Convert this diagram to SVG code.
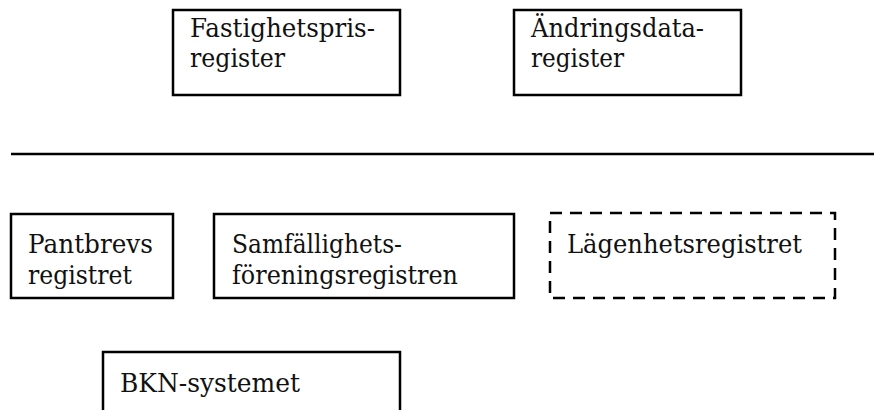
<svg xmlns="http://www.w3.org/2000/svg" width="874" height="410" viewBox="0 0 874 410">
<style>
  .box { fill: #fff; stroke: #000; stroke-width: 2.5; }
  .dash { fill: #fff; stroke: #000; stroke-width: 2.5; stroke-dasharray: 12 8; }
  .lbl { font-family: "DejaVu Serif", "Liberation Serif", serif; font-size: 26px; fill: #111; }
  .rule { stroke: #000; stroke-width: 2.5; }
</style>
<rect width="874" height="410" fill="#fff"/>
<g id="connectors">
  <line class="rule" x1="11" y1="154" x2="874" y2="154"/>
</g>
<g id="fastighetspris">
  <rect class="box" x="173" y="10" width="227" height="85"/>
  <text class="lbl" x="190" y="37" textLength="185" lengthAdjust="spacingAndGlyphs">Fastighetspris-</text>
  <text class="lbl" x="190" y="67" textLength="95" lengthAdjust="spacingAndGlyphs">register</text>
</g>
<g id="andringsdata">
  <rect class="box" x="514" y="10" width="227" height="85"/>
  <text class="lbl" x="531" y="37" textLength="173" lengthAdjust="spacingAndGlyphs">Ändringsdata-</text>
  <text class="lbl" x="531" y="67" textLength="93" lengthAdjust="spacingAndGlyphs">register</text>
</g>
<g id="pantbrevs">
  <rect class="box" x="11" y="214" width="162" height="84"/>
  <text class="lbl" x="28" y="253" textLength="125" lengthAdjust="spacingAndGlyphs">Pantbrevs</text>
  <text class="lbl" x="28" y="284" textLength="104" lengthAdjust="spacingAndGlyphs">registret</text>
</g>
<g id="samfallighets">
  <rect class="box" x="214" y="214" width="300" height="84"/>
  <text class="lbl" x="232" y="253" textLength="170" lengthAdjust="spacingAndGlyphs">Samfällighets-</text>
  <text class="lbl" x="232" y="284" textLength="226" lengthAdjust="spacingAndGlyphs">föreningsregistren</text>
</g>
<g id="lagenhets">
  <rect class="dash" x="550" y="213" width="285" height="85"/>
  <text class="lbl" x="567" y="253" textLength="235" lengthAdjust="spacingAndGlyphs">Lägenhetsregistret</text>
</g>
<g id="bkn">
  <rect class="box" x="103" y="352" width="297" height="80"/>
  <text class="lbl" x="120" y="392" textLength="180" lengthAdjust="spacingAndGlyphs">BKN-systemet</text>
</g>
</svg>
